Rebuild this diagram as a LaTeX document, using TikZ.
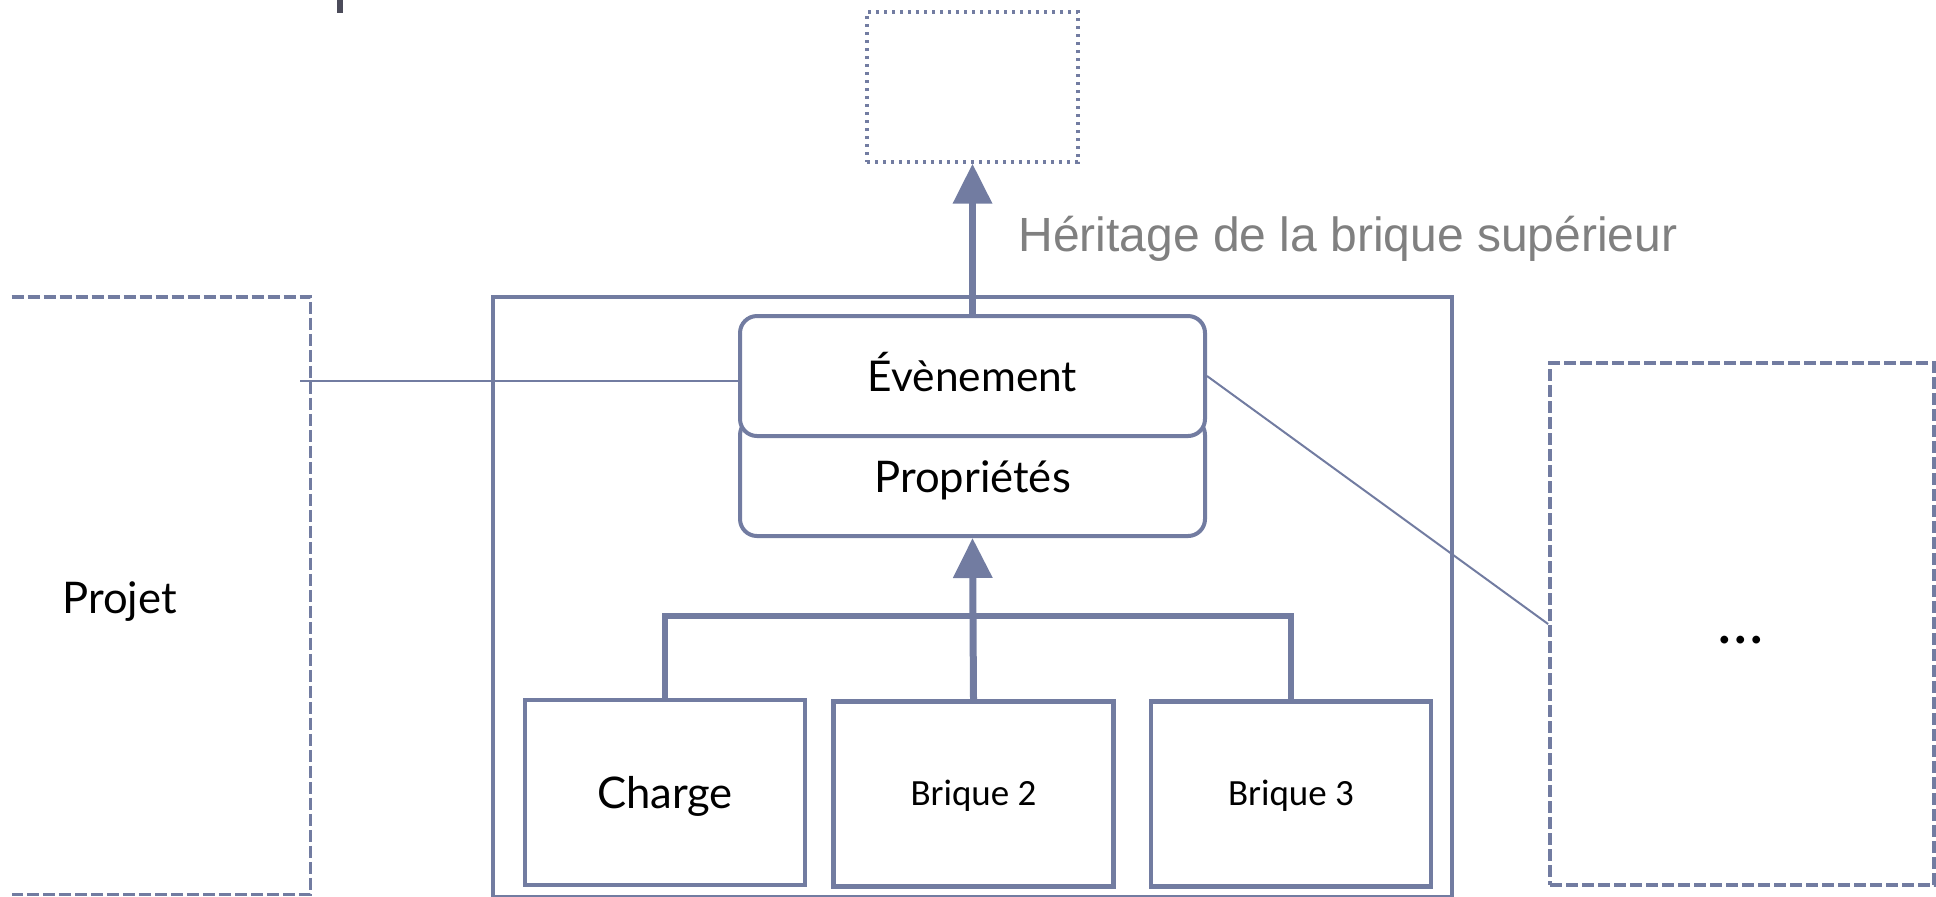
\documentclass[tikz,border=0pt]{standalone}
\usepackage{fontspec}
\setmainfont{Lato}
\newfontfamily\calibf{Carlito}
\newfontfamily\arialf{Liberation Sans}
\usetikzlibrary{arrows.meta}
\definecolor{slate}{RGB}{114,124,161}
\definecolor{headgrey}{RGB}{128,128,128}
\definecolor{darkbar}{RGB}{75,75,90}
\begin{document}
\begin{tikzpicture}[x=0.5pt,y=-0.5pt,
  mainbox/.style={draw=slate, line width=1.9pt, inner sep=0pt, minimum width=479.5pt, minimum height=300pt},
  roundbox/.style={draw=slate, fill=white, line width=2pt, rounded corners=8.5pt, inner sep=0pt,
    minimum width=232.5pt, text height=15.4pt, text depth=0pt},
  childbox/.style={draw=slate, line width=2.1pt, inner sep=0pt, minimum width=140pt, minimum height=92.5pt},
  dashbox/.style={draw=slate, line width=1.9pt, dash pattern=on 6pt off 2pt},
  dotbox/.style={draw=slate, line width=1.7pt, dash pattern=on 1.5pt off 2.5pt, inner sep=0pt,
    minimum width=105.5pt, minimum height=75pt},
  upar/.style={draw=slate, line width=3.5pt, -{Triangle[length=20pt,width=19pt]}},
  bracketline/.style={draw=slate, line width=3.2pt},
  thinline/.style={draw=slate, line width=1pt},
  latotext/.style={font=\fontsize{21.8}{25}\selectfont, text height=15.6pt, text depth=0pt},
  calibtext/.style={font=\calibf\fontsize{18.5}{22}\selectfont, text height=11.9pt, text depth=0pt}
]
\useasboundingbox (0,0) rectangle (1936,896);

% small remnant bar at the top
\fill[darkbar] (337,0) rectangle (343,13);

% top dotted box
\node[dotbox] (herit) at (972.5,87) {};

% heading text
\node[anchor=base west, inner sep=0pt, text=headgrey, font=\arialf\fontsize{24}{28}\selectfont] (htext) at (1018,251) {Héritage de la brique supérieur};

% main box
\node[mainbox] (main) at (972.5,597) {};

% property and event boxes
\node[roundbox, minimum height=59pt, font=\fontsize{21.8}{25}\selectfont] (prop) at (972.5,477) {Propriétés};
\node[roundbox, minimum height=60pt, font=\fontsize{21.2}{25}\selectfont] (evt) at (972.5,376) {Évènement};

% children
\node[childbox, latotext] (charge) at (665,792.5) {Charge};
\node[childbox, calibtext] (b2) at (973.5,794) {Brique 2};
\node[childbox, calibtext] (b3) at (1291,794) {Brique 3};

% Projet box (left side is outside the picture)
\node[inner sep=0pt, minimum width=149pt, minimum height=298.5pt] (projet) at (161,595.5) {};
\draw[dashbox] (projet.north west) -- (projet.north east) -- (projet.south east) -- (projet.south west);
\node[latotext, inner sep=0pt] (projettext) at (119.5,597.5) {Projet};

% right box
\node[dashbox, inner sep=0pt, minimum width=192pt, minimum height=261pt] (other) at (1742,624) {};
\node[inner sep=0pt, font=\fontsize{31}{34}\selectfont] (dots) at (1741,640) {…};

% connectors
\coordinate (lstart) at (300,381);
\draw[thinline] (lstart) -- (lstart -| evt.west);
\draw[thinline] (evt.east) -- (other.west);

\draw[upar] (evt.north) -- (herit.south);

\coordinate (bar) at (972.5,616);
\draw[bracketline] (charge.north) |- (bar) -| (b3.north);
\draw[upar] (b2.north) -- (prop.south);
\end{tikzpicture}
\end{document}
